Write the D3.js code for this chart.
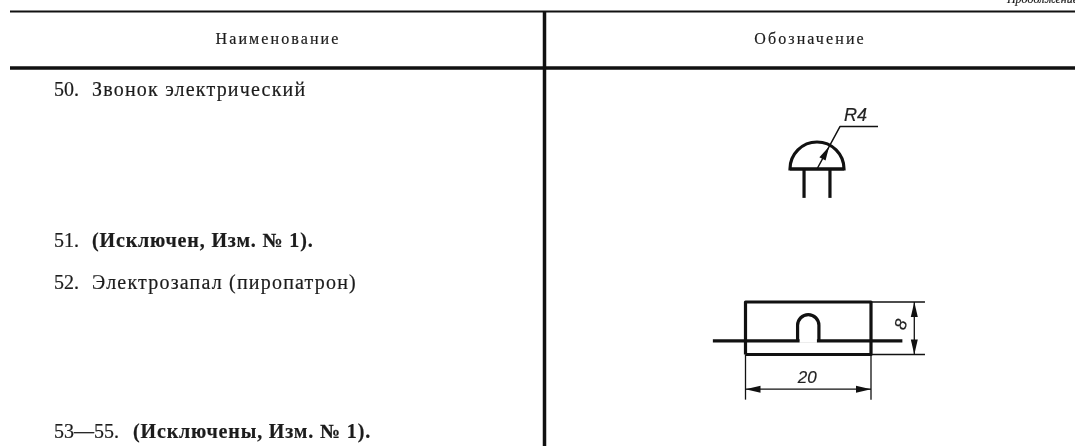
<!DOCTYPE html>
<html>
<head>
<meta charset="utf-8">
<style>
  html, body { margin: 0; padding: 0; background: #fff; overflow: hidden; }
  svg { display: block; filter: blur(0.45px); }
  text { font-family: "Liberation Serif", serif; fill: #1c1c1c; stroke: #1c1c1c; stroke-width: 0.2px; }
  .dim { font-family: "Liberation Sans", sans-serif; font-style: italic; fill: #222; }
</style>
<script src="https://cdn.jsdelivr.net/npm/d3@7"></script>
</head>
<body>
<svg id="sheet"></svg>
<script>
const headers = ['Наименование', 'Обозначение'];
const continuation = 'Продолжение';
const rowNumbers = ['50.', '51.', '52.', '53—55.'];
const rowTexts = ['Звонок электрический', '(Исключен, Изм. № 1).', 'Электрозапал (пиропатрон)', '(Исключены, Изм. № 1).'];
const rowBold = [false, true, false, true];
const bellRadius = 4;   // R4
const fuseWidth = 20;
const fuseHeight = 8;

const width = 1075, height = 446;
const svg = d3.select('#sheet').attr('width', width).attr('height', height);

// table layout
const colX = d3.scaleOrdinal().domain(headers).range([278, 810]);
const rowY = d3.scaleOrdinal().domain(rowNumbers).range([96, 247, 289, 438]);
const textX = d3.scaleOrdinal().domain(rowNumbers).range([92, 92, 92, 133]);

const rule = (x1, y1, x2, y2, w) => svg.append('line')
  .attr('x1', x1).attr('y1', y1).attr('x2', x2).attr('y2', y2)
  .attr('stroke', '#111').attr('stroke-width', w);

rule(10, 11.5, width, 11.5, 2);
rule(10, 68, width, 68, 3.5);
rule(544.5, 11, 544.5, height, 3.5);

svg.selectAll('.head').data(headers).join('text')
  .attr('class', 'head')
  .attr('x', d => colX(d)).attr('y', 44)
  .attr('text-anchor', 'middle')
  .attr('font-size', 16).attr('letter-spacing', 2.1)
  .text(d => d);

svg.append('text')
  .attr('x', width + 3).attr('y', 2.5)
  .attr('text-anchor', 'end').attr('font-size', 12).attr('font-style', 'italic')
  .text(continuation);

svg.selectAll('.num').data(rowNumbers).join('text')
  .attr('class', 'num')
  .attr('x', 54).attr('y', d => rowY(d))
  .attr('font-size', 20)
  .text(d => d);

svg.selectAll('.row').data(rowTexts).join('text')
  .attr('class', 'row')
  .attr('x', (d, i) => textX(rowNumbers[i])).attr('y', (d, i) => rowY(rowNumbers[i]))
  .attr('font-size', 20)
  .attr('letter-spacing', (d, i) => rowBold[i] ? 0.85 : 1.2)
  .attr('font-weight', (d, i) => rowBold[i] ? 'bold' : 'normal')
  .text(d => d);

// drawings are in millimetres, like the dimensions printed on them
const drawLine = (pts, w, xs, ys) => svg.append('path')
  .attr('d', d3.line().x(p => xs(p[0])).y(p => ys(p[1]))(pts))
  .attr('fill', 'none').attr('stroke', '#111').attr('stroke-width', w)
  .attr('stroke-linejoin', 'round');

const arrowHead = (tip, from, len, half) => {
  const a = Math.atan2(from[1] - tip[1], from[0] - tip[0]);
  const hx = tip[0] + Math.cos(a) * len, hy = tip[1] + Math.sin(a) * len;
  const nx = -Math.sin(a) * half, ny = Math.cos(a) * half;
  svg.append('polygon')
    .attr('points', [tip, [hx + nx, hy + ny], [hx - nx, hy - ny]].join(' '))
    .attr('fill', '#111');
};

// 50. bell
const bx = d3.scaleLinear().domain([-bellRadius, bellRadius]).range([790, 844]);
const by = d3.scaleLinear().domain([0, bellRadius]).range([169, 142]);
const r = bellRadius;
svg.append('path')
  .attr('transform', `translate(${bx(0)},${by(0)})`)
  .attr('d', d3.arc().innerRadius(0).outerRadius(bx(r) - bx(0))
    .startAngle(-Math.PI / 2).endAngle(Math.PI / 2)())
  .attr('fill', 'none').attr('stroke', '#111').attr('stroke-width', 3.2);
drawLine([[-r, 0], [r, 0]], 3.2, bx, by);
drawLine([[-r * 0.48, 0], [-r * 0.48, -r * 1.07]], 3.2, bx, by);
drawLine([[r * 0.48, 0], [r * 0.48, -r * 1.07]], 3.2, bx, by);
// radius leader
const leaderEnd = [r * 0.85, r * 1.57];
drawLine([[0, 0], leaderEnd, [r * 2.26, r * 1.57]], 1.5, bx, by);
const bellTip = [r * 0.45, r * 0.83];
arrowHead([bx(bellTip[0]), by(bellTip[1])], [bx(0), by(0)], 14, 3.5);
svg.append('text').attr('class', 'dim')
  .attr('x', 844).attr('y', 121)
  .attr('font-size', 18).text('R' + bellRadius);

// 52. fuse
const fx = d3.scaleLinear().domain([0, fuseWidth]).range([745.5, 871]);
const fy = d3.scaleLinear().domain([0, fuseHeight]).range([354.5, 302]);
const W = fuseWidth, H = fuseHeight;
drawLine([[0, 0], [W, 0], [W, H], [0, H], [0, 0]], 3.2, fx, fy);
const wireY = H * 0.26, bumpL = W * 0.415, bumpR = W * 0.585, bumpTop = H * 0.76;
drawLine([[-W * 0.26, wireY], [W * 1.25, wireY]], 3.2, fx, fy);
svg.append('rect')
  .attr('x', fx(bumpL) + 2).attr('y', fy(wireY) - 2)
  .attr('width', fx(bumpR) - fx(bumpL) - 4).attr('height', 4).attr('fill', '#fff');
const bumpRad = (fx(bumpR) - fx(bumpL)) / 2;
svg.append('path')
  .attr('d', `M${fx(bumpL)},${fy(wireY)}V${fy(bumpTop) + bumpRad}A${bumpRad},${bumpRad} 0 0 1 ${fx(bumpR)},${fy(bumpTop) + bumpRad}V${fy(wireY)}`)
  .attr('fill', 'none').attr('stroke', '#111').attr('stroke-width', 3.2);

// width dimension
const dimY = -H * 0.66, extY = -H * 0.86;
drawLine([[0, 0], [0, extY]], 1.3, fx, fy);
drawLine([[W, 0], [W, extY]], 1.3, fx, fy);
drawLine([[0, dimY], [W, dimY]], 1.3, fx, fy);
arrowHead([fx(0), fy(dimY)], [fx(W), fy(dimY)], 15, 3.5);
arrowHead([fx(W), fy(dimY)], [fx(0), fy(dimY)], 15, 3.5);
svg.append('text').attr('class', 'dim')
  .attr('x', fx(W / 2) - 1).attr('y', 383)
  .attr('text-anchor', 'middle').attr('font-size', 17).text(fuseWidth);

// height dimension
const dimX = W * 1.345, extX = W * 1.43;
drawLine([[W, 0], [extX, 0]], 1.3, fx, fy);
drawLine([[W, H], [extX, H]], 1.3, fx, fy);
drawLine([[dimX, 0], [dimX, H]], 1.3, fx, fy);
arrowHead([fx(dimX), fy(0)], [fx(dimX), fy(H)], 15, 3.5);
arrowHead([fx(dimX), fy(H)], [fx(dimX), fy(0)], 15, 3.5);
svg.append('text').attr('class', 'dim')
  .attr('transform', `translate(906,${fy(H / 2) - 2}) rotate(-70)`)
  .attr('text-anchor', 'middle').attr('font-size', 17).text(fuseHeight);
</script>
</body>
</html>
